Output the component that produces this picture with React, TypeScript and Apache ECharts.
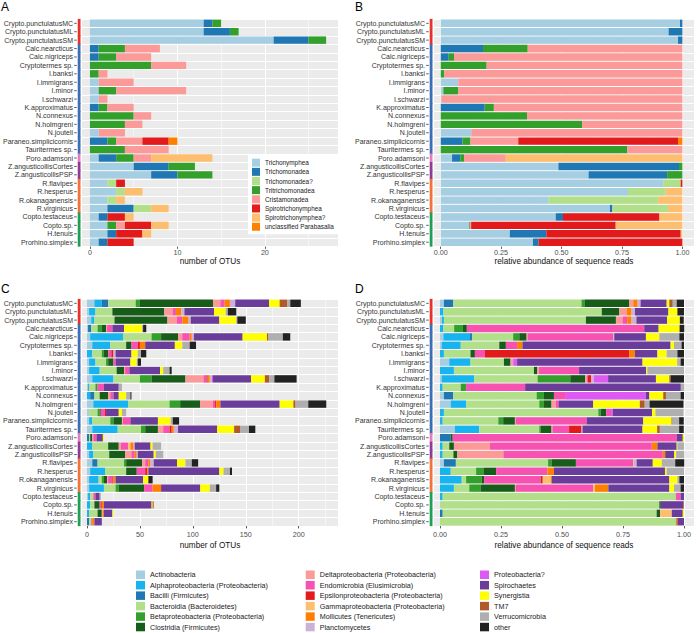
import React, { useEffect, useRef } from "react";
import * as echarts from "echarts";

// ---------- categories ----------
const samples = [
  "Crypto.punctulatusMC", "Crypto.punctulatusML", "Crypto.punctulatusSM",
  "Calc.nearcticus", "Calc.nigriceps", "Cryptotermes sp.", "I.banksi", "I.immigrans",
  "I.minor", "I.schwarzi", "K.approximatus", "N.connexus", "N.holmgreni", "N.jouteli",
  "Paraneo.simplicicornis", "Tauritermes sp.", "Poro.adamsoni",
  "Z.angusticollisCortes", "Z.angusticollisPSP",
  "R.flavipes", "R.hesperus", "R.okanaganensis", "R.virginicus",
  "Copto.testaceus", "Copto.sp.", "H.tenuis", "Prorhino.simplex",
];
const sampleGroup = [0, 0, 0, 1, 1, 1, 1, 1, 1, 1, 1, 1, 1, 1, 1, 1, 2, 3, 3, 4, 4, 4, 4, 5, 5, 5, 5];
const groupColors = ["#E5322D", "#3B6EB4", "#E67CC0", "#8F3A97", "#F2733A", "#1F9E58"];

// ---------- panel A / B : Parabasalia ----------
const protistTaxa = [
  "Trichonymphea", "Trichomonadea", "Trichomonadea?", "Tritrichomonadea",
  "Cristamonadea", "Spirotrichonymphea", "Spirotrichonymphea?", "unclassified Parabasalia",
];
const protistColors = ["#A6CEE3", "#1F78B4", "#B2DF8A", "#33A02C", "#FB9A99", "#E31A1C", "#FDBF6F", "#FF7F00"];

const otuTrichonymphea = [13, 13, 21, 0, 0, 0, 0, 1, 1, 1, 0, 0, 0, 1, 0, 0, 1, 5, 7, 2, 3, 2, 2, 1, 2, 2, 1];
const otuTrichomonadea = [1, 3, 4, 1, 1, 0, 0, 0, 0, 0, 1, 0, 0, 0, 2, 0, 2, 4, 3, 0, 0, 0, 3, 1, 0, 1, 1];
const otuTrichomonadeaQ = [0, 0, 0, 0, 0, 0, 0, 0, 0, 0, 0, 0, 0, 0, 0, 0, 0, 0, 0, 1, 1, 1, 2, 0, 0, 0, 0];
const otuTritrichomonadea = [1, 1, 2, 3, 2, 7, 1, 0, 2, 0, 1, 5, 4, 0, 1, 4, 2, 3, 4, 0, 0, 0, 0, 0, 1, 0, 0];
const otuCristamonadea = [0, 0, 0, 4, 4, 4, 1, 4, 8, 1, 3, 2, 2, 3, 3, 5, 2, 0, 0, 0, 0, 0, 0, 0, 1, 0, 0];
const otuSpirotrichonymphea = [0, 0, 0, 0, 0, 0, 0, 0, 0, 0, 0, 0, 0, 0, 3, 0, 0, 0, 0, 1, 0, 0, 0, 2, 3, 3, 3];
const otuSpirotrichonympheaQ = [0, 0, 0, 0, 0, 0, 0, 0, 0, 0, 0, 0, 0, 0, 0, 0, 7, 0, 0, 0, 2, 1, 2, 1, 2, 1, 0];
const otuUnclassifiedParabasalia = [0, 0, 0, 0, 0, 0, 0, 0, 0, 0, 0, 0, 0, 0, 1, 0, 0, 0, 0, 0, 0, 0, 0, 0, 0, 0, 0];

const relTrichonymphea = [0.99, 0.943, 0.982, 0, 0, 0, 0, 0.073, 0.011, 0.003, 0, 0, 0, 0.127, 0, 0, 0.047, 0.487, 0.612, 0.921, 0.775, 0.446, 0.7, 0.476, 0.118, 0.286, 0.382];
const relTrichomonadea = [0.01, 0.057, 0.018, 0.175, 0.033, 0, 0, 0, 0, 0, 0.182, 0, 0, 0, 0.09, 0, 0.034, 0.499, 0.325, 0, 0, 0, 0.01, 0.03, 0, 0.151, 0.023];
const relTrichomonadeaQ = [0, 0, 0, 0, 0, 0, 0, 0, 0, 0, 0, 0, 0, 0, 0, 0, 0, 0, 0, 0.072, 0.155, 0.454, 0.23, 0, 0, 0, 0];
const relTritrichomonadea = [0, 0, 0, 0.185, 0.022, 0.19, 0.015, 0, 0.061, 0, 0.038, 0.357, 0.585, 0, 0.033, 0.772, 0.016, 0.014, 0.063, 0, 0, 0, 0, 0, 0.003, 0, 0];
const relCristamonadea = [0, 0, 0, 0.64, 0.945, 0.81, 0.985, 0.927, 0.928, 0.997, 0.78, 0.643, 0.415, 0.873, 0.198, 0.228, 0.172, 0, 0, 0, 0, 0, 0, 0, 0.005, 0, 0];
const relSpirotrichonymphea = [0, 0, 0, 0, 0, 0, 0, 0, 0, 0, 0, 0, 0, 0, 0.661, 0, 0, 0, 0, 0.007, 0, 0, 0, 0.399, 0.598, 0.556, 0.595];
const relSpirotrichonympheaQ = [0, 0, 0, 0, 0, 0, 0, 0, 0, 0, 0, 0, 0, 0, 0, 0, 0.731, 0, 0, 0, 0.07, 0.1, 0.06, 0.095, 0.276, 0.007, 0];
const relUnclassifiedParabasalia = [0, 0, 0, 0, 0, 0, 0, 0, 0, 0, 0, 0, 0, 0, 0.018, 0, 0, 0, 0, 0, 0, 0, 0, 0, 0, 0, 0];

// ---------- panel C / D : Bacteria ----------
const bacteriaTaxa = [
  "Actinobacteria", "Alphaproteobacteria (Proteobacteria)", "Bacilli (Firmicutes)",
  "Bacteroidia (Bacteroidetes)", "Betaproteobacteria (Proteobacteria)", "Clostridia (Firmicutes)",
  "Deltaproteobacteria (Proteobacteria)", "Endomicrobia (Elusimicrobia)", "Epsilonproteobacteria (Proteobacteria)",
  "Gammaproteobacteria (Proteobacteria)", "Mollicutes (Tenericutes)", "Planctomycetes",
  "Proteobacteria?", "Spirochaetes", "Synergistia", "TM7", "Verrucomicrobia", "other",
];
const bacteriaColors = [
  "#A6CEE3", "#18B4F0", "#1F78B4", "#B2DF8A", "#33A02C", "#185C1A",
  "#FB9A99", "#F751B2", "#E31A1C", "#FDBF6F", "#FF7F00", "#CAB2D6",
  "#DC5AF2", "#6A3D9A", "#FFFF00", "#B15928", "#AFAFAF", "#222222",
];

const otuActinobacteria = [7, 2, 4, 1, 3, 5, 0, 2, 2, 5, 1, 0, 6, 2, 2, 5, 0, 0, 2, 5, 3, 2, 2, 1, 0, 0, 0];
const otuAlphaproteobacteria = [7, 6, 3, 0, 31, 17, 5, 6, 10, 20, 1, 3, 33, 0, 3, 24, 0, 5, 4, 0, 14, 9, 14, 2, 3, 2, 0];
const otuBacilli = [6, 0, 0, 3, 0, 0, 0, 0, 0, 0, 0, 4, 0, 0, 0, 0, 2, 0, 0, 5, 0, 0, 0, 0, 0, 0, 2];
const otuBacteroidia = [26, 16, 19, 6, 27, 15, 9, 10, 16, 25, 6, 5, 39, 8, 17, 22, 1, 15, 15, 25, 20, 3, 11, 3, 4, 8, 2];
const otuBetaproteobacteria = [4, 0, 0, 4, 9, 0, 2, 2, 0, 11, 2, 0, 10, 2, 3, 4, 0, 0, 0, 2, 0, 2, 3, 0, 0, 0, 0];
const otuClostridia = [69, 49, 50, 4, 16, 5, 4, 5, 7, 32, 0, 8, 19, 1, 8, 12, 2, 10, 15, 15, 10, 3, 24, 0, 5, 4, 0];
const otuDeltaproteobacteria = [7, 8, 9, 1, 4, 0, 0, 0, 1, 17, 0, 2, 12, 0, 1, 5, 1, 2, 6, 3, 0, 1, 0, 0, 0, 1, 0];
const otuEndomicrobia = [4, 3, 5, 5, 7, 6, 3, 2, 4, 3, 6, 3, 2, 4, 7, 6, 3, 7, 3, 3, 8, 4, 8, 2, 1, 0, 1];
const otuEpsilonproteobacteria = [0, 0, 0, 0, 0, 2, 2, 0, 0, 1, 0, 0, 1, 1, 0, 2, 0, 0, 0, 0, 2, 1, 0, 0, 1, 0, 0];
const otuGammaproteobacteria = [0, 0, 0, 0, 0, 0, 0, 0, 0, 0, 0, 0, 0, 0, 0, 0, 0, 2, 0, 0, 0, 0, 0, 0, 0, 0, 0];
const otuMollicutes = [5, 5, 6, 0, 2, 5, 0, 0, 0, 2, 0, 0, 4, 0, 0, 2, 0, 3, 2, 2, 1, 2, 8, 0, 2, 1, 2];
const otuPlanctomycetes = [5, 3, 2, 0, 2, 0, 2, 0, 0, 2, 0, 0, 0, 0, 0, 4, 0, 1, 1, 3, 0, 0, 0, 0, 0, 0, 0];
const otuProteobacteriaQ = [0, 0, 0, 0, 0, 0, 0, 0, 0, 1, 0, 0, 0, 0, 0, 0, 0, 0, 0, 0, 0, 0, 0, 0, 0, 0, 0];
const otuSpirochaetes = [32, 28, 27, 11, 46, 28, 15, 14, 29, 36, 14, 5, 56, 12, 26, 37, 6, 15, 15, 22, 67, 26, 37, 4, 45, 8, 7];
const otuSynergistia = [10, 11, 16, 17, 23, 7, 6, 6, 3, 13, 0, 7, 13, 3, 12, 16, 1, 2, 2, 8, 4, 5, 9, 0, 1, 1, 0];
const otuTM7 = [7, 0, 0, 0, 1, 0, 0, 0, 0, 4, 0, 0, 2, 0, 0, 6, 0, 0, 0, 0, 0, 0, 0, 0, 1, 0, 0];
const otuVerrucomicrobia = [3, 2, 1, 1, 14, 7, 3, 1, 6, 5, 3, 4, 12, 4, 2, 8, 0, 8, 7, 6, 6, 0, 6, 1, 0, 0, 0];
const otuOther = [10, 8, 8, 3, 7, 6, 5, 3, 2, 21, 0, 1, 17, 0, 6, 6, 0, 0, 0, 6, 2, 4, 3, 0, 0, 0, 0];

const relActinobacteria = [0.016, 0, 0.008, 0, 0.014, 0.007, 0, 0.038, 0, 0.007, 0, 0.016, 0.044, 0, 0, 0.061, 0, 0, 0, 0.016, 0, 0, 0, 0, 0, 0, 0];
const relAlphaproteobacteria = [0, 0.014, 0.008, 0.014, 0.109, 0.078, 0.016, 0.087, 0.057, 0.133, 0.011, 0, 0.063, 0.016, 0.011, 0.1, 0, 0.011, 0.011, 0, 0.044, 0.089, 0.057, 0.011, 0, 0, 0];
const relBacilli = [0.038, 0, 0, 0, 0.008, 0, 0, 0, 0, 0, 0, 0.038, 0, 0, 0, 0, 0.044, 0, 0, 0.049, 0, 0, 0, 0, 0, 0.011, 0];
const relBacteroidia = [0.526, 0.649, 0.582, 0.044, 0.169, 0.158, 0.109, 0.137, 0.328, 0.26, 0.074, 0.342, 0.3, 0.633, 0.228, 0.246, 0, 0.027, 0.044, 0.378, 0.104, 0.018, 0.063, 0.956, 0.899, 0.877, 0.967];
const relBetaproteobacteria = [0.014, 0, 0, 0.036, 0.025, 0, 0, 0, 0, 0.134, 0.022, 0.03, 0.019, 0.01, 0.02, 0.005, 0, 0, 0, 0.014, 0.03, 0.064, 0.046, 0, 0, 0, 0];
const relClostridia = [0.182, 0.072, 0.123, 0.016, 0.03, 0.027, 0.018, 0.027, 0.014, 0.061, 0, 0.041, 0.031, 0.022, 0.048, 0.045, 0.008, 0.019, 0.016, 0.1, 0.052, 0.01, 0.141, 0, 0.006, 0.014, 0];
const relDeltaproteobacteria = [0.016, 0.03, 0.027, 0, 0.004, 0, 0, 0.011, 0.007, 0.007, 0, 0, 0.018, 0, 0.004, 0.004, 0, 0.148, 0.189, 0, 0, 0, 0.004, 0, 0, 0, 0];
const relEndomicrobia = [0, 0, 0.019, 0.727, 0.351, 0.046, 0.041, 0, 0.164, 0.004, 0.242, 0.049, 0.011, 0.02, 0.29, 0.068, 0.918, 0.663, 0.653, 0.235, 0.21, 0.232, 0.317, 0.019, 0, 0, 0];
const relEpsilonproteobacteria = [0, 0, 0, 0, 0, 0, 0.592, 0, 0, 0.014, 0, 0, 0, 0, 0, 0.051, 0, 0, 0, 0, 0, 0.008, 0, 0, 0, 0, 0];
const relGammaproteobacteria = [0, 0, 0, 0, 0, 0, 0, 0, 0, 0, 0, 0, 0, 0, 0, 0, 0, 0, 0, 0.003, 0, 0.033, 0.007, 0, 0, 0.048, 0];
const relMollicutes = [0.018, 0.02, 0.018, 0, 0, 0.022, 0.023, 0, 0, 0, 0, 0, 0, 0, 0, 0, 0, 0.023, 0.01, 0, 0.027, 0.004, 0.055, 0, 0, 0, 0.006];
const relPlanctomycetes = [0.012, 0.014, 0.02, 0, 0.004, 0, 0, 0, 0, 0.01, 0, 0, 0, 0, 0, 0.004, 0, 0, 0, 0.011, 0, 0, 0, 0, 0, 0, 0];
const relProteobacteriaQ = [0, 0, 0, 0, 0, 0, 0, 0.016, 0, 0.059, 0, 0.328, 0, 0.007, 0, 0, 0, 0, 0, 0, 0, 0, 0, 0, 0, 0, 0];
const relSpirochaetes = [0.107, 0.137, 0.126, 0.059, 0.13, 0.607, 0.092, 0.514, 0.275, 0.196, 0.638, 0.014, 0.142, 0.161, 0.232, 0.246, 0.025, 0.079, 0.037, 0.066, 0.455, 0.482, 0.25, 0.014, 0.092, 0.045, 0.027];
const relSynergistia = [0.011, 0.037, 0.052, 0.086, 0.055, 0.014, 0.038, 0.142, 0.005, 0.055, 0, 0.057, 0.191, 0.014, 0.116, 0.06, 0.005, 0.003, 0.008, 0.037, 0.007, 0.033, 0.019, 0, 0, 0.005, 0];
const relTM7 = [0.014, 0, 0, 0, 0, 0, 0, 0, 0, 0.005, 0, 0.011, 0.02, 0, 0.004, 0.011, 0, 0, 0, 0, 0, 0, 0, 0, 0.003, 0, 0];
const relVerrucomicrobia = [0.016, 0, 0, 0, 0.082, 0.031, 0.044, 0.014, 0.15, 0, 0.014, 0.06, 0.02, 0.115, 0.027, 0.079, 0, 0.027, 0.033, 0.055, 0.071, 0.008, 0.027, 0, 0, 0, 0];
const relOther = [0.03, 0.027, 0.016, 0.019, 0.019, 0.01, 0.027, 0.014, 0, 0.055, 0, 0.014, 0.139, 0, 0.019, 0.019, 0, 0, 0, 0.037, 0, 0.019, 0.014, 0, 0, 0, 0];

// ---------- axis ticks ----------
const otuTicksA = [0, 10, 20];
const otuMinorA = [5, 15, 25];
const otuTicksC = [0, 50, 100, 150, 200];
const otuMinorC = [25, 75, 125, 175, 225];
const fracTicks = [0, 0.25, 0.5, 0.75, 1];
const fracMinor = [0.125, 0.375, 0.625, 0.875];
const panelLetters = ["A", "B", "C", "D"];

// tables built from the arrays above
const protistOtu = [otuTrichonymphea, otuTrichomonadea, otuTrichomonadeaQ, otuTritrichomonadea, otuCristamonadea, otuSpirotrichonymphea, otuSpirotrichonympheaQ, otuUnclassifiedParabasalia];
const protistRel = [relTrichonymphea, relTrichomonadea, relTrichomonadeaQ, relTritrichomonadea, relCristamonadea, relSpirotrichonymphea, relSpirotrichonympheaQ, relUnclassifiedParabasalia];
const bacteriaOtu = [otuActinobacteria, otuAlphaproteobacteria, otuBacilli, otuBacteroidia, otuBetaproteobacteria, otuClostridia, otuDeltaproteobacteria, otuEndomicrobia, otuEpsilonproteobacteria, otuGammaproteobacteria, otuMollicutes, otuPlanctomycetes, otuProteobacteriaQ, otuSpirochaetes, otuSynergistia, otuTM7, otuVerrucomicrobia, otuOther];
const bacteriaRel = [relActinobacteria, relAlphaproteobacteria, relBacilli, relBacteroidia, relBetaproteobacteria, relClostridia, relDeltaproteobacteria, relEndomicrobia, relEpsilonproteobacteria, relGammaproteobacteria, relMollicutes, relPlanctomycetes, relProteobacteriaQ, relSpirochaetes, relSynergistia, relTM7, relVerrucomicrobia, relOther];

const FONT = "'Liberation Sans', Arial, Helvetica, sans-serif";

function App() {
  const ref = useRef<HTMLDivElement>(null);

  useEffect(() => {
    if (!ref.current) return;
    const chart = echarts.init(ref.current, null, { renderer: "svg" });

    const grids = [
      { left: 79, top: 19.1, width: 259, height: 227.3 },
      { left: 434, top: 19.1, width: 260, height: 227.3 },
      { left: 80, top: 299.1, width: 258, height: 226.8 },
      { left: 434, top: 299.1, width: 260, height: 226.8 },
    ].map((g) => ({ ...g, show: true, backgroundColor: "#EBEBEB", borderWidth: 0, containLabel: false }));

    const axisDefs = [
      { min: -0.904, max: 28.36, ticks: otuTicksA, minor: otuMinorA, name: "number of OTUs", frac: false, margin: 3, gap: 10.5 },
      { min: -0.0277, max: 1.048, ticks: fracTicks, minor: fracMinor, name: "relative abundance of sequence reads", frac: true, margin: 3, gap: 10.5 },
      { min: -4.69, max: 237.1, ticks: otuTicksC, minor: otuMinorC, name: "number of OTUs", frac: false, margin: 5.5, gap: 16 },
      { min: -0.0246, max: 1.041, ticks: fracTicks, minor: fracMinor, name: "relative abundance of sequence reads", frac: true, margin: 5.5, gap: 16 },
    ];

    const xAxis = axisDefs.map((a, i) => ({
      type: "value",
      gridIndex: i,
      min: a.min,
      max: a.max,
      name: a.name,
      nameLocation: "middle",
      nameGap: a.gap,
      nameTextStyle: { fontSize: 8.2, color: "#111", fontFamily: FONT },
      axisLine: { show: false },
      splitLine: { show: false },
      axisTick: { show: true, length: 2.5, customValues: a.ticks, lineStyle: { color: "#333", width: 0.8 } },
      axisLabel: {
        customValues: a.ticks,
        fontSize: 7.2,
        color: "#4D4D4D",
        fontFamily: FONT,
        margin: a.margin,
        formatter: (v: number) => (a.frac ? v.toFixed(2) : String(v)),
      },
    }));

    const yAxis = [0, 1, 2, 3].map((i) => ({
      type: "category",
      gridIndex: i,
      data: samples,
      inverse: true,
      axisLine: { show: false },
      axisTick: { show: false },
      axisLabel: { interval: 0, fontSize: 7, color: "#333", fontFamily: FONT, margin: 9 },
      splitLine: { show: true, interval: 0, lineStyle: { color: "#FFFFFF", width: 1 } },
    }));

    const series: any[] = [];
    const panels = [
      { taxa: protistTaxa, colors: protistColors, values: protistOtu },
      { taxa: protistTaxa, colors: protistColors, values: protistRel },
      { taxa: bacteriaTaxa, colors: bacteriaColors, values: bacteriaOtu },
      { taxa: bacteriaTaxa, colors: bacteriaColors, values: bacteriaRel },
    ];

    panels.forEach((p, gi) => {
      const a = axisDefs[gi];
      p.taxa.forEach((name, ti) => {
        const s: any = {
          type: "bar",
          name,
          xAxisIndex: gi,
          yAxisIndex: gi,
          stack: "panel" + gi,
          barWidth: "88%",
          data: p.values[ti],
          itemStyle: { color: p.colors[ti] },
          emphasis: { disabled: true },
          silent: true,
          z: 2,
        };
        if (ti === 0) {
          s.markLine = {
            silent: true,
            z: 1,
            symbol: ["none", "none"],
            label: { show: false },
            animation: false,
            data: [
              ...a.ticks.map((v) => ({ xAxis: v, lineStyle: { color: "#FFFFFF", width: 1, type: "solid" } })),
              ...a.minor.map((v) => ({ xAxis: v, lineStyle: { color: "#FFFFFF", width: 0.5, type: "solid" } })),
            ],
          };
        }
        series.push(s);
      });
      // group colour strip + y ticks
      series.push({
        type: "custom",
        xAxisIndex: gi,
        yAxisIndex: gi,
        clip: false,
        silent: true,
        z: 3,
        encode: { x: 0, y: 1 },
        data: samples.map((_, k) => [0, k, sampleGroup[k]]),
        renderItem: (params: any, api: any) => {
          const cs = params.coordSys;
          const c = api.coord([0, api.value(1)]);
          const h = api.size([0, 1])[1];
          return {
            type: "group",
            children: [
              {
                type: "rect",
                shape: { x: cs.x - 4.3, y: c[1] - h / 2 - 0.25, width: 2.8, height: h + 0.5 },
                style: { fill: groupColors[api.value(2)] },
              },
              {
                type: "line",
                shape: { x1: cs.x - 7.8, y1: c[1], x2: cs.x - 5.3, y2: c[1] },
                style: { stroke: "#333", lineWidth: 0.8 },
              },
            ],
          };
        },
      });
    });

    const legendCommon = {
      orient: "vertical",
      icon: "rect",
      selectedMode: false,
      padding: 0,
      itemWidth: 9,
      itemHeight: 8.5,
      itemGap: 1.96,
      textStyle: { fontSize: 7.2, color: "#1a1a1a", fontFamily: FONT },
    };

    const letterPos = [
      [1, 1],
      [355, 1],
      [1, 283],
      [355, 283],
    ];

    const option: any = {
      animation: false,
      textStyle: { fontFamily: FONT },
      grid: grids,
      xAxis,
      yAxis,
      series,
      legend: [
        {
          orient: "vertical",
          icon: "rect",
          selectedMode: false,
          left: 248,
          top: 155,
          backgroundColor: "#FFFFFF",
          padding: [3.7, 4, 3.5, 4],
          itemWidth: 8,
          itemHeight: 8,
          itemGap: 1.15,
          textStyle: { fontSize: 6.4, color: "#1a1a1a", fontFamily: FONT },
          data: protistTaxa,
        },
        { ...legendCommon, left: 136, top: 570.5, data: bacteriaTaxa.slice(0, 6) },
        { ...legendCommon, left: 305.7, top: 570.5, data: bacteriaTaxa.slice(6, 12) },
        { ...legendCommon, left: 480, top: 570.5, data: bacteriaTaxa.slice(12, 18) },
      ],
      graphic: panelLetters.map((t, i) => ({
        type: "text",
        x: letterPos[i][0],
        y: letterPos[i][1],
        style: { text: t, fontSize: 12, fill: "#000", fontFamily: FONT, textVerticalAlign: "top", verticalAlign: "top" },
      })),
    };

    chart.setOption(option);
    return () => chart.dispose();
  }, []);

  return (
    <div
      ref={ref}
      style={{ position: "fixed", left: 0, top: 0, width: 696, height: 633, background: "#FFFFFF" }}
    />
  );
}

export default App;
